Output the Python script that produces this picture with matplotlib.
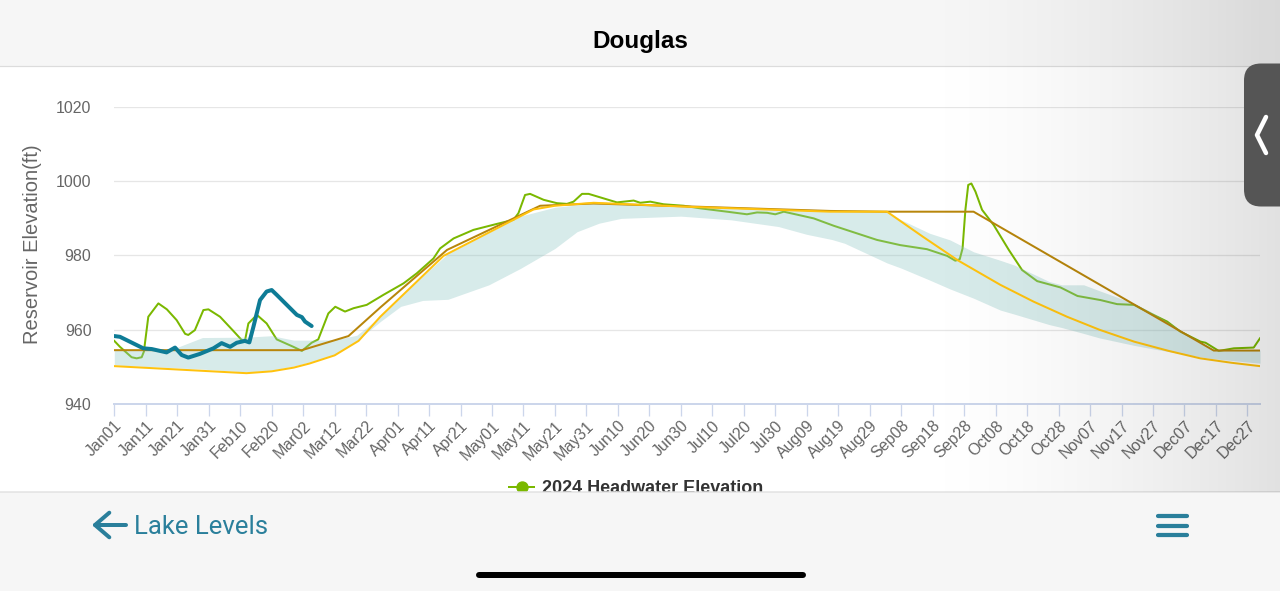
import matplotlib
matplotlib.use('Agg')
import matplotlib.pyplot as plt
import numpy as np
from matplotlib.patches import Rectangle, FancyBboxPatch

W, H = 1280, 591
plt.rcParams['font.family'] = ['Liberation Sans', 'DejaVu Sans']

# ---------------- data ----------------
tick_labels = ["Jan01", "Jan11", "Jan21", "Jan31", "Feb10", "Feb20", "Mar02", "Mar12",
               "Mar22", "Apr01", "Apr11", "Apr21", "May01", "May11", "May21", "May31",
               "Jun10", "Jun20", "Jun30", "Jul10", "Jul20", "Jul30", "Aug09", "Aug19",
               "Aug29", "Sep08", "Sep18", "Sep28", "Oct08", "Oct18", "Oct28", "Nov07",
               "Nov17", "Nov27", "Dec07", "Dec17", "Dec27"]
y_ticks = [940, 960, 980, 1000, 1020]

band_days = [0, 10, 18, 28, 42, 50, 57, 62, 70, 77, 84.5, 91, 98, 106, 119, 129, 140, 147,
             154, 161, 180, 196, 211, 220, 228, 232, 245.5, 250, 259, 265.5, 273, 281.5,
             286, 297, 301, 308, 313, 324, 329, 334.5, 345, 349, 364]
band_high = [954.5, 954.5, 954.6, 957.9, 958.0, 958.4, 957.2, 957.2, 957.3, 958.5, 963.5,
             968.8, 974.5, 980.5, 986.2, 990.6, 993.0, 993.6, 994.1, 994.0, 993.2, 992.7,
             992.3, 992.0, 991.8, 991.8, 991.8, 989.6, 986.0, 984.2, 981.0, 978.7, 977.4,
             973.0, 972.1, 972.1, 970.5, 967.1, 965.0, 962.2, 956.5, 954.5, 954.5]
band_low = [950.5, 950.1, 949.8, 949.4, 948.6, 949.1, 950.2, 951.3, 953.3, 957.0, 962.2,
            966.3, 967.9, 968.2, 972.1, 976.5, 981.9, 986.4, 988.7, 990.0, 990.6, 989.6,
            987.8, 985.7, 984.3, 983.3, 978.0, 976.6, 973.4, 971.0, 968.5, 965.3, 964.2,
            961.4, 960.6, 959.0, 957.8, 955.8, 955.0, 954.2, 952.7, 952.2, 951.0]

yellow_days = [0, 42, 50, 57, 62, 70, 77.6, 84.5, 104.6, 133.2, 140, 152.3, 183, 227.5,
               245.5, 257, 268, 281.5, 292, 302.7, 313, 324, 335, 345, 355, 364]
yellow_vals = [950.2, 948.3, 948.8, 949.8, 950.9, 953.1, 957.0, 963.5, 979.9, 992.4, 993.4,
               994.2, 993.1, 991.8, 991.8, 985.0, 978.7, 972.1, 967.6, 963.5, 960.0, 956.8,
               954.3, 952.3, 951.1, 950.2]

gold_days = [0, 59.6, 74.4, 84.5, 105.7, 135.3, 152.3, 183, 227.5, 245.5, 273, 349.3, 364]
gold_vals = [954.5, 954.5, 958.3, 966.0, 981.5, 993.4, 994.0, 993.2, 992.0, 991.8, 991.8,
             954.4, 954.4]

hw2024_days = [0, 1.8, 5.5, 7.1, 8.7, 9.4, 10.8, 14, 16.7, 19.8, 22.5, 23.5, 25.6, 28.3,
               29.9, 33.6, 37.8, 40.5, 41.5, 42.6, 45.3, 48.4, 51.6, 56.9, 59.6, 62.7,
               64.8, 68, 70.2, 73.3, 76, 80.2, 85.5, 91.9, 96.1, 101.4, 103.5, 107.8,
               114.1, 121.5, 126.8, 128.4, 130.5, 132.1, 136.4, 140.6, 143.8, 145.9,
               148.6, 150.7, 159.7, 165, 167.1, 170.3, 174.5, 180.9, 186.2, 194.7, 201,
               204.2, 207.4, 210, 212.7, 218, 222.2, 228.6, 242.3, 249.7, 258.2, 264.6,
               267.2, 268.6, 269.5, 270.4, 271.3, 272.3, 273.6, 275.7, 279.4, 284.2,
               288.4, 293.2, 300.6, 306, 313.3, 318.6, 324, 329.2, 334.5, 338.7, 345.1,
               346.7, 350.9, 355.7, 362, 364]
hw2024_vals = [957.0, 955.4, 952.6, 952.3, 952.6, 954.1, 963.5, 967.1, 965.5, 962.6, 958.9,
               958.6, 959.9, 965.3, 965.5, 963.5, 959.7, 957.2, 957.0, 961.7, 964.0, 961.7,
               957.4, 955.4, 954.3, 956.5, 957.4, 964.4, 966.2, 964.9, 965.8, 966.7, 969.4,
               972.5, 975.2, 979.2, 981.9, 984.6, 986.9, 988.5, 989.6, 991.4, 996.3, 996.6,
               995.0, 994.1, 993.9, 994.5, 996.6, 996.6, 994.3, 994.8, 994.2, 994.5, 993.8,
               993.4, 992.7, 991.8, 991.1, 991.6, 991.5, 991.1, 991.8, 990.8, 990.0, 988.0,
               984.2, 982.8, 981.7, 979.9, 978.6, 979.0, 981.9, 992.3, 999.0, 999.4, 997.2,
               992.3, 988.2, 981.5, 976.1, 973.1, 971.4, 969.1, 968.0, 966.9, 966.7, 964.4,
               962.2, 959.5, 956.8, 956.5, 954.3, 955.0, 955.2, 957.7]

hw2025_days = [0, 1.8, 9.2, 11.9, 16.6, 19.3, 21.4, 23.5, 27.2, 31.5, 34.1, 36.8, 38.9,
               41.5, 42.9, 44.2, 46.3, 48.4, 50, 51.6, 54.8, 58, 59.6, 60.6, 62.7]
hw2025_vals = [958.3, 958.1, 955.0, 954.8, 953.9, 955.2, 953.2, 952.5, 953.5, 955.0, 956.4,
               955.4, 956.5, 957.0, 956.6, 960.8, 968.0, 970.3, 970.7, 969.4, 966.7, 964.0,
               963.4, 962.2, 961.0]

legend_label = "2024 Headwater Elevation"
y_label = "Reservoir Elevation(ft)"

# ---------------- colours ----------------
GREEN = '#7ab800'
TEAL = '#0e7c96'
GOLD = '#b8860b'
YELLOW = '#ffc20e'
BAND = '#8dc6c3'
UI_TEAL = '#2a7f9b'
PX = 0.72  # points per pixel at 100 dpi

fig = plt.figure(figsize=(12.8, 5.91), dpi=100)
fig.patch.set_facecolor('white')

ax = fig.add_axes([114.3 / W, 1 - 404 / H, (1260 - 114.3) / W, (404 - 107) / H])
ax.plot(hw2024_days, hw2024_vals, color=GREEN, lw=2 * PX, zorder=2, solid_joinstyle='round')
ax.fill_between(band_days, band_low, band_high, color=BAND, alpha=0.35, lw=0, zorder=3)
ax.plot(gold_days, gold_vals, color=GOLD, lw=2 * PX, zorder=4)
ax.plot(yellow_days, yellow_vals, color=YELLOW, lw=2 * PX, zorder=4.5)
ax.plot(hw2025_days, hw2025_vals, color=TEAL, lw=4 * PX, zorder=5,
        solid_capstyle='round', solid_joinstyle='round')

ax.set_xlim(0, 364)
ax.set_ylim(940, 1020)
ax.set_xticks(np.arange(0, 361, 10))
ax.set_xticklabels(tick_labels, rotation=45, ha='right', va='top',
                   rotation_mode='anchor', fontsize=11.5, color='#666666')
ax.set_yticks(y_ticks)
ax.set_yticklabels([str(v) for v in y_ticks], fontsize=11.5, color='#666666')
ax.tick_params(axis='y', length=0, pad=16.5)
ax.tick_params(axis='x', length=12 * PX, width=1.3 * PX, color='#ccd6eb', pad=1.5)
ax.yaxis.grid(True, color='#e6e6e6', lw=1.3 * PX)
ax.set_axisbelow(True)
for s in ['top', 'right', 'left']:
    ax.spines[s].set_visible(False)
ax.spines['bottom'].set_color('#ccd6eb')
ax.spines['bottom'].set_linewidth(2 * PX)
ax.spines['bottom'].set_zorder(1)

# ---------------- UI overlay (pixel coordinates) ----------------
ui = fig.add_axes([0, 0, 1, 1], zorder=10)
ui.axis('off')
ui.patch.set_visible(False)

ui.text(33, 244, y_label, rotation=90, ha='center', va='center',
        fontsize=14.5, color='#666666')

# legend (partly hidden by footer)
ui.plot([509, 534], [487.3, 487.3], color=GREEN, lw=2 * PX, zorder=1)
ui.plot([521.5], [487.3], 'o', color=GREEN, ms=11 * PX, zorder=1)
ui.text(541.7, 493, legend_label, fontsize=13, fontweight='bold', color='#333333',
        va='baseline', ha='left', zorder=1)

# header
ui.add_patch(Rectangle((0, 0), W, 65.5, fc='#f6f6f6', ec='none', zorder=2))
ui.plot([0, W], [66, 66], color='#dcdcdc', lw=1.2 * PX, zorder=2.5)
ui.text(640, 48, "Douglas", fontsize=17.5, fontweight='bold', color='black',
        ha='center', va='baseline', zorder=3)

# footer
ui.add_patch(Rectangle((0, 492), W, H - 492, fc='#f6f6f6', ec='none', zorder=2))
ui.plot([0, W], [492, 492], color='#e2e2e2', lw=1.5 * PX, zorder=2.5)
ui.plot([126, 95], [525, 525], color=UI_TEAL, lw=4 * PX, solid_capstyle='round', zorder=3)
ui.plot([109.3, 95, 109.3], [512.7, 525, 537.3], color=UI_TEAL, lw=4 * PX,
        solid_capstyle='round', solid_joinstyle='round', zorder=3)
ui.text(134, 534, "Lake Levels", fontsize=18.5, color=UI_TEAL, family=['Roboto', 'DejaVu Sans'],
        ha='left', va='baseline', zorder=3)
for yy in [516.3, 525.7, 535]:
    ui.plot([1158, 1187], [yy, yy], color=UI_TEAL, lw=4.2 * PX, solid_capstyle='round', zorder=3)
ui.plot([479, 803], [575, 575], color='black', lw=6 * PX, solid_capstyle='round', zorder=3)

# right-side shadow gradient
n = 380
ramp = np.linspace(0, 1, n) ** 1.6 * 0.12
grad = np.zeros((1, n, 4))
grad[..., 3] = ramp
ui.imshow(grad, extent=(900, 1280, 492, 0), aspect='auto', zorder=4, interpolation='bilinear')

# side tab
ui.add_patch(FancyBboxPatch((1244, 63.5), 70, 143, boxstyle='round,pad=0,rounding_size=17',
                            fc='#555555', ec='none', zorder=5))
ui.plot([1266, 1257, 1266], [117, 135, 153], color='white', lw=4.5 * PX,
        solid_capstyle='round', solid_joinstyle='round', zorder=6)

ui.set_xlim(0, W)
ui.set_ylim(H, 0)

fig.savefig('out.png', dpi=100)
